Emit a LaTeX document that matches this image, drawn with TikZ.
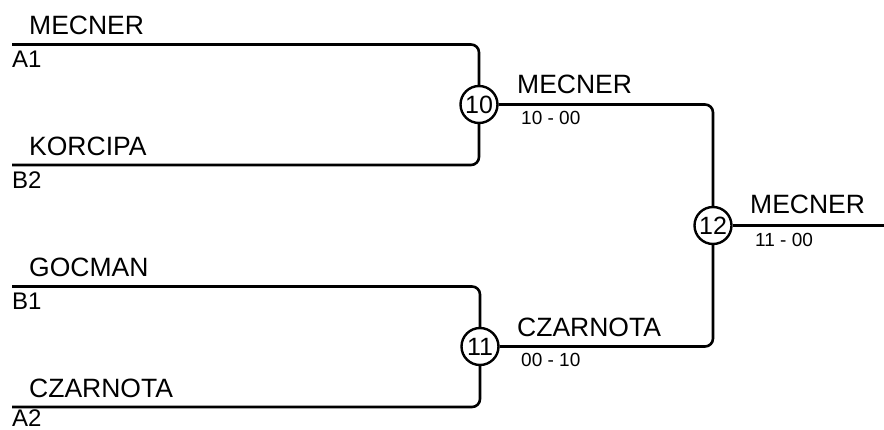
\documentclass[tikz,border=0pt]{standalone}
\usepackage{fontspec}
\setmainfont{Liberation Sans}
\begin{document}
\begin{tikzpicture}[x=1pt,y=-1pt,
  bline/.style={line width=2.6pt, rounded corners=8pt},
  matchc/.style={circle, draw, line width=2.4pt, minimum size=37pt, inner sep=0pt, font=\fontsize{25}{25}\selectfont},
  player/.style={anchor=base west, inner sep=0pt, font=\fontsize{26.5}{26.5}\selectfont},
  seedlbl/.style={anchor=base west, inner sep=0pt, font=\fontsize{24}{24}\selectfont},
  scorelbl/.style={anchor=west, inner sep=0pt, font=\fontsize{19}{19}\selectfont}]
\useasboundingbox (0,0) rectangle (884,430);
% match circles
\node[matchc] (c10) at (479,104.5) {10};
\node[matchc] (c11) at (480,346.5) {11};
\node[matchc] (c12) at (713,225.5) {12};
% entry points
\coordinate (a1) at (12,44.5);
\coordinate (b2) at (12,165);
\coordinate (b1) at (12,286.5);
\coordinate (a2) at (12,407);
\coordinate (fin) at (884,225.5);
% connectors
\draw[bline] (a1) -| (c10);
\draw[bline] (b2) -| (c10);
\draw[bline] (b1) -| (c11);
\draw[bline] (a2) -| (c11);
\draw[bline] (c10) -| (c12);
\draw[bline] (c11) -| (c12);
\draw[bline] (c12) -- (fin);
% labels
\node[player] (nA1) at (29,35) {MECNER};
\node[seedlbl] (sA1) at (12,68) {A1};
\node[player] (nB2) at (29,155.5) {KORCIPA};
\node[seedlbl] (sB2) at (12,189) {B2};
\node[player] (nB1) at (29,277) {GOCMAN};
\node[seedlbl] (sB1) at (12,310) {B1};
\node[player] (nA2) at (29,398) {CZARNOTA};
\node[seedlbl] (sA2) at (12,426.5) {A2};
\node[player] (w10) at (517,94) {MECNER};
\node[scorelbl] (r10) at (521,118) {10 - 00};
\node[player] (w11) at (517,337) {CZARNOTA};
\node[scorelbl] (r11) at (521,360) {00 - 10};
\node[player] (w12) at (750,214) {MECNER};
\node[scorelbl] (r12) at (755,240) {11 - 00};
\end{tikzpicture}
\end{document}
